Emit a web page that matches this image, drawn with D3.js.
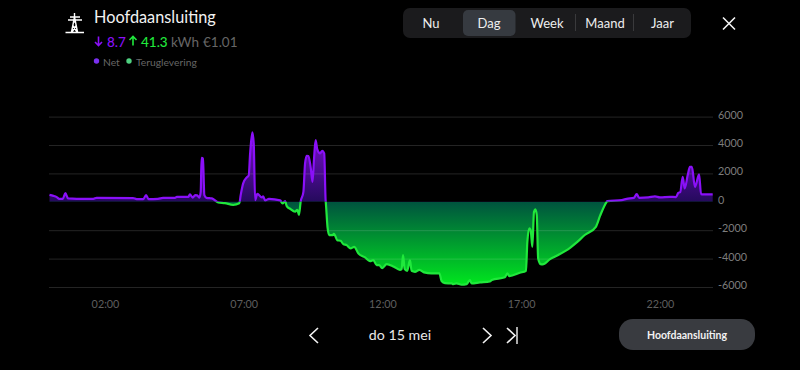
<!DOCTYPE html>
<html>
<head>
<meta charset="utf-8">
<script src="https://cdn.jsdelivr.net/npm/d3@7"></script>
<style>
html, body { margin: 0; background: #000; overflow: hidden; }
text { font-family: Lato, sans-serif; }
</style>
</head>
<body>
<div id="chart-area"></div>
<script>
var hours = [0, .14, .26, .35, .48, .57, .67, .98, 1.58, 1.70, 3.01, 3.14, 3.38, 3.48, 3.57, 3.91, 4.09, 4.52, 4.59, 5.00,
    5.06, 5.16, 5.25, 5.32, 5.40, 5.45, 5.48, 5.53, 5.58, 5.66, 5.85, 6.08, 6.32, 6.62, 6.84, 6.89, 6.98, 7.11, 7.18, 7.23,
    7.31, 7.36, 7.41, 7.49, 7.65, 7.70, 7.77, 7.91, 8.31, 8.40, 8.49, 8.55, 8.67, 8.85, 8.93, 8.99, 9.05, 9.15, 9.21, 9.27,
    9.33, 9.41, 9.48, 9.53, 9.59, 9.65, 9.75, 9.83, 9.90, 9.95, 9.96, 10.02, 10.08, 10.21, 10.25, 10.37, 10.49, 10.59, 10.71, 10.85,
    10.98, 11.13, 11.37, 11.55, 11.67, 11.79, 11.88, 11.99, 12.15, 12.39, 12.63, 12.69, 12.74, 12.80, 12.89, 12.99, 13.05, 13.17, 13.33, 13.50,
    13.77, 14.05, 14.13, 14.25, 14.49, 14.55, 14.67, 14.85, 15.03, 15.15, 15.21, 15.51, 15.87, 15.94, 16.41, 16.50, 16.57, 16.95, 17.17, 17.22,
    17.29, 17.34, 17.40, 17.46, 17.51, 17.56, 17.61, 17.70, 17.77, 18.04, 18.33, 18.76, 19.00, 19.29, 19.69, 19.84, 20.08, 20.10, 20.62, 20.80,
    21.06, 21.16, 21.25, 21.58, 21.82, 22.00, 22.36, 22.58, 22.66, 22.73, 22.82, 22.89, 23.00, 23.08, 23.15, 23.26, 23.41, 23.48, 23.56, 23.90];

var power = [490, 420, 330, 210, 210, 610, 240, 210, 210, 280, 260, 190, 190, 470, 190, 210, 280, 280, 350, 340,
    520, 300, 470, 450, 300, 700, 3100, 3050, 470, 280, 240, -40, -90, -210, -110, 470, 1300, 1720, 1860, 3410,
    4890, 4110, 120, 560, 310, 380, 100, 210, 100, -110, 50, -300, -490, -700, -560, -920, 0, 700, 2700, 3240,
    3220, 2460, 1410, 2940, 4350, 3690, 3410, 3590, 3410, 120, -110, -1800, -2340, -2340, -2250, -2700, -2750, -2980, -3050, -3280,
    -3170, -3630, -3920, -4180, -4110, -4460, -4460, -4670, -4390, -4550, -4790, -4740, -3750, -4740, -4860, -4110, -4860, -4930, -4790, -4970,
    -5040, -5040, -5580, -5730, -5750, -5800, -5750, -5840, -5800, -5510, -5750, -5680, -5610, -5510, -5320, -5040, -5230, -5000, -4860, -2820,
    -1870, -1990, -3170, -700, -540, -940, -3990, -4390, -4410, -4040, -3750, -3240, -2860, -2340, -1760, -990, 0, 50, 120, 210,
    280, 540, 280, 310, 380, 310, 350, 330, 630, 680, 1760, 940, 1880, 2460, 2460, 1050, 1930, 540, 520, 520];

var hourTicks = [2, 7, 12, 17, 22];
var powerTicks = [-6000, -4000, -2000, 0, 2000, 4000, 6000];
var periods = ["Nu", "Dag", "Week", "Maand", "Jaar"];

var readings = hours.map(function(h, i) {
    return { hour: h, watt: power[i] };
});

var svg = d3.select("#chart-area")
    .append("svg")
    .attr("width", 800)
    .attr("height", 370)
    .style("display", "block");

var x = d3.scaleLinear().domain([0, 23.9]).range([49.5, 712.7]);
var y = d3.scaleLinear().domain([-6000, 6000]).range([287, 116.6]);

var defs = svg.append("defs");

function gradient(id, y1, y2, from, to) {
    var grad = defs.append("linearGradient")
        .attr("id", id)
        .attr("gradientUnits", "userSpaceOnUse")
        .attr("x1", 0).attr("x2", 0)
        .attr("y1", y1).attr("y2", y2);
    grad.append("stop").attr("offset", 0).attr("stop-color", from);
    grad.append("stop").attr("offset", 1).attr("stop-color", to);
}
gradient("fill-net", y(d3.max(power)), y(0), "#7a0fd0", "#250a5c");
gradient("fill-back", y(0), y(d3.min(power)), "#00533f", "#00e61e");

defs.append("clipPath").attr("id", "above")
    .append("rect").attr("x", 0).attr("y", 0).attr("width", 800).attr("height", y(0));
defs.append("clipPath").attr("id", "below")
    .append("rect").attr("x", 0).attr("y", y(0)).attr("width", 800).attr("height", 370 - y(0));

var curve = d3.curveMonotoneX;

var area = d3.area()
    .x(function(d) { return x(d.hour); })
    .y0(y(0))
    .y1(function(d) { return y(d.watt); })
    .curve(curve);

var line = d3.line()
    .x(function(d) { return x(d.hour); })
    .y(function(d) { return y(d.watt); })
    .curve(curve);

svg.append("path").attr("d", area(readings)).attr("fill", "url(#fill-net)").attr("clip-path", "url(#above)");
svg.append("path").attr("d", area(readings)).attr("fill", "url(#fill-back)").attr("clip-path", "url(#below)");

// grid sits over the fill, it shows faintly through the green
svg.append("g")
    .selectAll("line")
    .data(powerTicks.filter(function(d) { return d !== 0; }))
    .enter()
    .append("line")
    .attr("x1", 49)
    .attr("x2", 713)
    .attr("y1", function(d) { return y(d) + 0.5; })
    .attr("y2", function(d) { return y(d) + 0.5; })
    .attr("stroke", "#fff")
    .attr("stroke-opacity", 0.14);

svg.append("path").attr("d", line(readings)).attr("fill", "none")
    .attr("stroke", "#8a10f8").attr("stroke-width", 2.2).attr("stroke-linejoin", "round").attr("clip-path", "url(#above)");
svg.append("path").attr("d", line(readings)).attr("fill", "none")
    .attr("stroke", "#20e83c").attr("stroke-width", 2.2).attr("stroke-linejoin", "round").attr("clip-path", "url(#below)");

var xAxisCall = d3.axisBottom(x)
    .tickValues(hourTicks)
    .tickSize(0)
    .tickPadding(0)
    .tickFormat(function(d) {
        return (d < 10 ? "0" : "") + d + ":00";
    });

var yAxisCall = d3.axisRight(y)
    .tickValues(powerTicks)
    .tickSize(0)
    .tickPadding(0)
    .tickFormat(function(d) { return d; });

var xAxisGroup = svg.append("g")
    .attr("transform", "translate(0,300)")
    .call(xAxisCall);
xAxisGroup.select(".domain").remove();
xAxisGroup.selectAll("text").attr("fill", "#5e5e5e").attr("font-size", "10.8px").style("font-family", "Lato, sans-serif");

var yAxisGroup = svg.append("g")
    .attr("transform", "translate(718,-2)")
    .call(yAxisCall);
yAxisGroup.select(".domain").remove();
yAxisGroup.selectAll("text").attr("fill", "#7d7d7d").attr("font-size", "10.8px").style("font-family", "Lato, sans-serif");

// header
svg.append("path")
    .attr("d", "M65.5 32.5H84M74.5 13V17M70 17H80M68 20H82M74.5 17L71.5 32M74.5 17L77.5 32M72.5 25L77 32M76.5 25L72 32M72.8 22H76.2")
    .attr("fill", "none").attr("stroke", "#fff").attr("stroke-width", 1.4);

svg.append("text").attr("x", 94).attr("y", 23).attr("fill", "#f2f2f2").attr("font-size", "16.3px").text("Hoofdaansluiting");

svg.append("path").attr("d", "M98.5 36.5V45.5M95 42L98.5 45.5L102 42")
    .attr("fill", "none").attr("stroke", "#8a10f8").attr("stroke-width", 1.6);
svg.append("text").attr("x", 107).attr("y", 47).attr("fill", "#8a10f8").attr("font-size", "13.5px").attr("font-weight", 500).text("8.7");
svg.append("path").attr("d", "M133 45.5V36.5M129.5 40L133 36.5L136.5 40")
    .attr("fill", "none").attr("stroke", "#20e83c").attr("stroke-width", 1.6);
svg.append("text").attr("x", 141).attr("y", 47).attr("fill", "#20e83c").attr("font-size", "13.5px").attr("font-weight", 500).text("41.3");
svg.append("text").attr("x", 171).attr("y", 47).attr("fill", "#666").attr("font-size", "13.5px").text("kWh");
svg.append("text").attr("x", 203).attr("y", 47).attr("fill", "#666").attr("font-size", "13.5px").text("€1.01");

svg.append("circle").attr("cx", 96.5).attr("cy", 61).attr("r", 2.7).attr("fill", "#7a30f0");
svg.append("text").attr("x", 103).attr("y", 66).attr("fill", "#666").attr("font-size", "10.3px").text("Net");
svg.append("circle").attr("cx", 129).attr("cy", 61).attr("r", 2.7).attr("fill", "#4fd080");
svg.append("text").attr("x", 136).attr("y", 66).attr("fill", "#666").attr("font-size", "10.3px").text("Teruglevering");

// period switch
svg.append("rect").attr("x", 403).attr("y", 8).attr("width", 288).attr("height", 30).attr("rx", 7).attr("fill", "#1b1b1d");
svg.append("rect").attr("x", 463).attr("y", 10).attr("width", 52.5).attr("height", 26).attr("rx", 5).attr("fill", "#363a40");
[575.5, 633.5].forEach(function(px) {
    svg.append("line").attr("x1", px).attr("x2", px).attr("y1", 14).attr("y2", 31).attr("stroke", "#3a3a3c");
});
var periodX = [431, 489, 547, 605, 662.5];
svg.append("g")
    .selectAll("text")
    .data(periods)
    .enter()
    .append("text")
    .attr("x", function(d, i) { return periodX[i]; })
    .attr("y", 28)
    .attr("text-anchor", "middle")
    .attr("fill", "#eee")
    .attr("font-size", "13px")
    .attr("font-family", "Inter, sans-serif")
    .text(function(d) { return d; });

svg.append("path").attr("d", "M723 17.5L735 29.5M735 17.5L723 29.5")
    .attr("fill", "none").attr("stroke", "#f2f2f2").attr("stroke-width", 1.6);

// date navigation
var navigation = "M318 328L310 335.5L318 343M483 328L491 335.5L483 343M507 328L515 335.5L507 343";
svg.append("path").attr("d", navigation).attr("fill", "none").attr("stroke", "#f2f2f2").attr("stroke-width", 1.6);
svg.append("line").attr("x1", 517).attr("x2", 517).attr("y1", 327).attr("y2", 344).attr("stroke", "#f2f2f2").attr("stroke-width", 1.4);
svg.append("text").attr("x", 400).attr("y", 340).attr("text-anchor", "middle").attr("fill", "#e8e8e8").attr("font-size", "14.2px").text("do 15 mei");

svg.append("rect").attr("x", 619).attr("y", 319).attr("width", 136).attr("height", 31).attr("rx", 14).attr("fill", "#393b40");
svg.append("text").attr("x", 687).attr("y", 338.5).attr("text-anchor", "middle").attr("fill", "#f2f2f2").attr("font-size", "10.5px").attr("font-weight", 700).text("Hoofdaansluiting");
</script>
</body>
</html>
